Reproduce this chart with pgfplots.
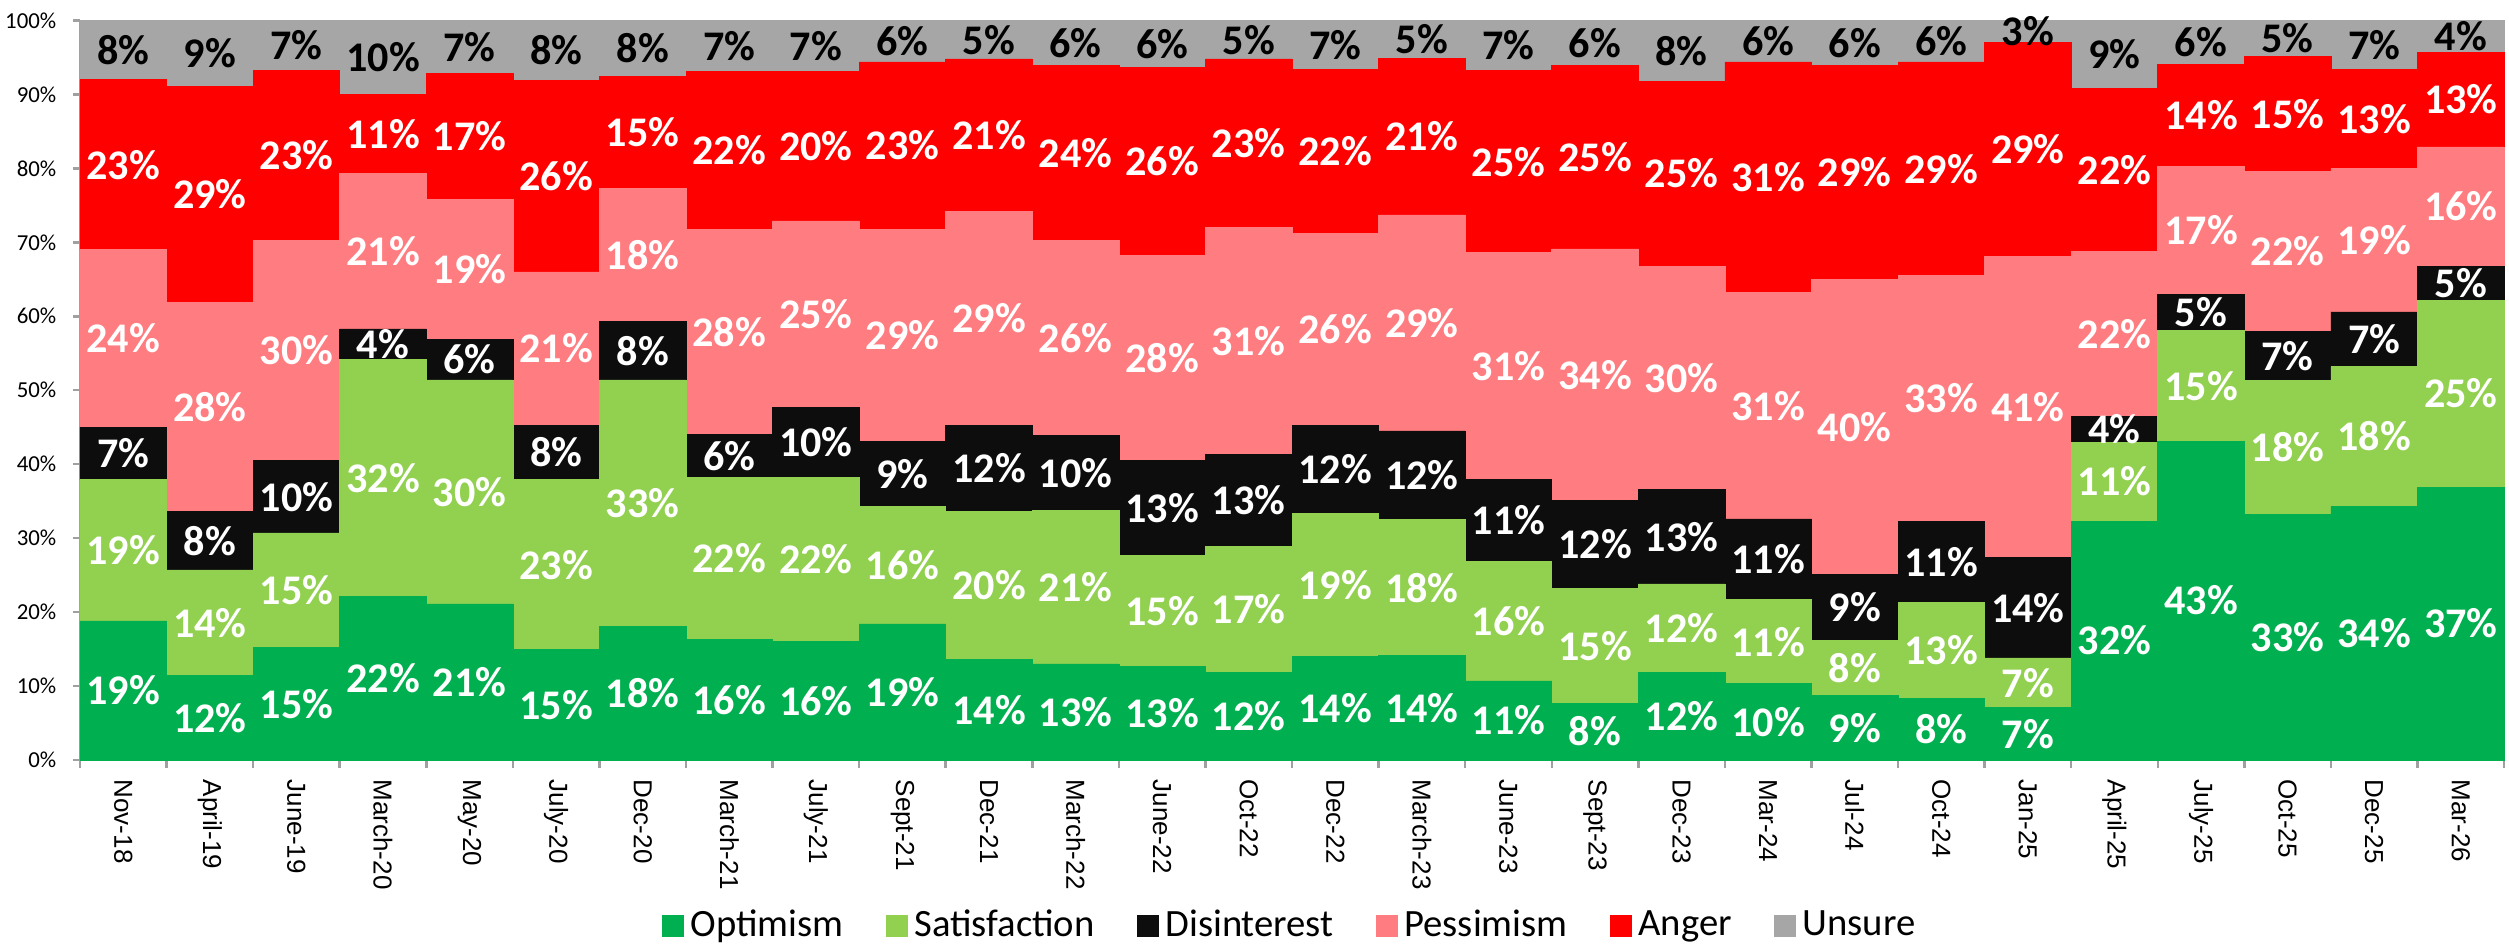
\documentclass[border=0pt]{standalone}
\usepackage{fontspec}
\setmainfont{Carlito}
\newfontfamily\arialf{Liberation Sans}
\usepackage{pgfplots}
\usepackage{pgfplotstable}
\pgfplotsset{compat=1.18}

\definecolor{cOpt}{HTML}{00B050}
\definecolor{cSat}{HTML}{92D050}
\definecolor{cDis}{HTML}{0D0D0D}
\definecolor{cPes}{HTML}{FF7C80}
\definecolor{cAng}{HTML}{FF0000}
\definecolor{cUns}{HTML}{A6A6A6}
\definecolor{axgray}{HTML}{A0A0A0}

\pgfplotstableread{
x  o    s    d    p    a    u    lo ls ld lp la lu
0  18.8 19.1 7.1  24.0 23.0 8.0  19 19 7  24 23 8
1  11.4 14.3 7.9  28.3 29.2 8.9  12 14 8  28 29 9
2  15.2 15.5 9.8  29.8 23.0 6.7  15 15 10 30 23 7
3  22.1 32.1 4.1  21.0 10.7 10.0 22 32 4  21 11 10
4  21.1 30.3 5.5  18.9 17.0 7.2  21 30 6  19 17 7
5  14.9 23.0 7.4  20.7 25.9 8.1  15 23 8  21 26 8
6  18.1 33.3 7.9  18.0 15.1 7.6  18 33 8  18 15 8
7  16.3 21.9 5.8  27.8 21.3 6.9  16 22 6  28 22 7
8  16.0 22.2 9.5  25.2 20.2 6.9  16 22 10 25 20 7
9  18.4 15.9 8.8  28.7 22.6 5.6  19 16 9  29 23 6
10 13.6 20.0 11.7 28.9 20.6 5.2  14 20 12 29 21 5
11 13.0 20.8 10.1 26.4 23.6 6.1  13 21 10 26 24 6
12 12.6 15.1 12.8 27.7 25.5 6.3  13 15 13 28 26 6
13 11.8 17.1 12.4 30.7 22.8 5.2  12 17 13 31 23 5
14 14.0 19.4 11.9 25.9 22.2 6.6  14 19 12 26 22 7
15 14.1 18.4 12.0 29.2 21.2 5.1  14 18 12 29 21 5
16 10.7 16.2 11.0 30.7 24.6 6.8  11 16 11 31 25 7
17 7.7  15.5 11.9 34.0 24.8 6.1  8  15 12 34 25 6
18 11.8 12.0 12.8 30.2 25.0 8.2  12 12 13 30 25 8
19 10.3 11.4 10.9 30.6 31.2 5.6  10 11 11 31 31 6
20 8.7  7.5  8.9  39.9 28.9 6.1  9  8  9  40 29 6
21 8.3  13.0 11.0 33.2 28.9 5.6  8  13 11 33 29 6
22 7.1  6.7  13.6 40.7 28.9 3.0  7  7  14 41 29 3
23 32.3 10.7 3.5  22.3 22.0 9.2  32 11 4  22 22 9
24 43.1 15.0 4.8  17.4 13.8 5.9  43 15 5  17 14 6
25 33.2 18.1 6.7  21.6 15.5 4.9  33 18 7  22 15 5
26 34.3 18.9 7.4  19.4 13.4 6.6  34 18 7  19 13 7
27 36.9 25.3 4.6  16.1 12.8 4.3  37 25 5  16 13 4
}\data

\pgfplotsset{
  seg/.style n args={2}{
    fill=#1, draw=#1, line width=0.2pt,
    point meta=explicit symbolic,
    nodes near coords={\pgfplotspointmeta\%},
    every node near coord/.style={anchor=center,
      text=#2, font=\bfseries\fontsize{12}{12}\selectfont, inner sep=0pt},
  },
}

\begin{document}
\begin{tikzpicture}
\useasboundingbox (-8mm,-18.4mm) rectangle (242.9mm,76.0mm);
\begin{axis}[
  name=ax,
  at={(0,0)}, anchor=south west,
  scale only axis,
  width=242.4mm, height=73.95mm,
  ybar stacked, bar width=1,
  xmin=-0.5, xmax=27.5, ymin=0, ymax=100,
  clip=false,
  xtick={0,...,27},
  xticklabels={Nov-18,April-19,June-19,March-20,May-20,July-20,Dec-20,March-21,July-21,Sept-21,Dec-21,March-22,June-22,Oct-22,Dec-22,March-23,June-23,Sept-23,Dec-23,Mar-24,Jul-24,Oct-24,Jan-25,April-25,July-25,Oct-25,Dec-25,Mar-26},
  minor xtick={-0.5,0.5,...,27.5},
  ytick={0,10,...,100},
  yticklabels={0\%,10\%,20\%,30\%,40\%,50\%,60\%,70\%,80\%,90\%,100\%},
  axis x line*=bottom, axis y line*=left,
  axis line style={draw=axgray, line width=0.7pt},
  tick align=outside,
  major tick length=0.7mm, minor tick length=0.8mm,
  every tick/.style={draw=axgray, line width=0.7pt},
  major x tick style={draw=none},
  yticklabel style={font=\fontsize{6.5}{7}\selectfont, inner sep=0pt},
  yticklabel shift=1.6mm,
  xticklabel style={font=\arialf\fontsize{7.4}{8}\selectfont, rotate=-90, anchor=west, inner sep=0pt},
  xticklabel shift=1.2mm,
  legend style={at={(0.5,-0.2246)}, anchor=center, draw=none, fill=none,
    legend columns=-1, font=\fontsize{11}{12}\selectfont,
    /tikz/every even column/.append style={column sep=3.5mm}},
  legend image code/.code={\fill[#1] (0mm,-1.05mm) rectangle (2.1mm,1.05mm);},
]
\addplot[seg={cOpt}{white}] table[x=x,y=o,meta=lo]{\data};
\addplot[seg={cSat}{white}] table[x=x,y=s,meta=ls]{\data};
\addplot[seg={cDis}{white}] table[x=x,y=d,meta=ld]{\data};
\addplot[seg={cPes}{white}] table[x=x,y=p,meta=lp]{\data};
\addplot[seg={cAng}{white}] table[x=x,y=a,meta=la]{\data};
\addplot[seg={cUns}{black}] table[x=x,y=u,meta=lu]{\data};
\legend{Optimism,Satisfaction,Disinterest,Pessimism,Anger,Unsure}
\end{axis}
\end{tikzpicture}
\end{document}
